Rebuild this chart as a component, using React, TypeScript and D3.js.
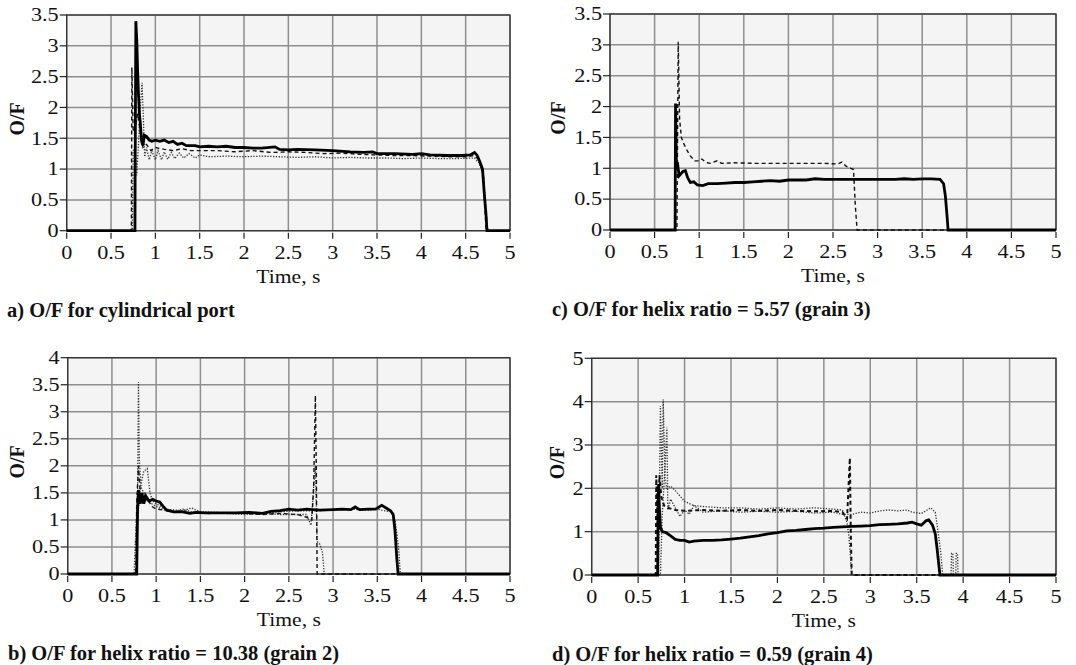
import * as d3 from "d3";

type Pt = [number, number];

// x ticks shared by all panels
const xTicks = [0, 0.5, 1, 1.5, 2, 2.5, 3, 3.5, 4, 4.5, 5];
const yTicksA = [0, 0.5, 1, 1.5, 2, 2.5, 3, 3.5];
const yTicksB = [0, 0.5, 1, 1.5, 2, 2.5, 3, 3.5, 4];
const yTicksD = [0, 1, 2, 3, 4, 5];

const captions = [
  "a) O/F for cylindrical port",
  "b) O/F for helix ratio = 10.38 (grain 2)",
  "c) O/F for helix ratio = 5.57 (grain 3)",
  "d) O/F for helix ratio = 0.59 (grain 4)",
];

// panel a
const aSolid: Pt[] = [
  [0, 0], [0.77, 0], [0.772, 1.0], [0.78, 3.4], [0.79, 3.1], [0.8, 2.6], [0.81, 2.2], [0.82, 1.9],
  [0.83, 1.75], [0.845, 1.45], [0.86, 1.38], [0.875, 1.55], [0.9, 1.53], [0.93, 1.47], [0.96, 1.45],
  [1.0, 1.47], [1.05, 1.45], [1.1, 1.47], [1.15, 1.43], [1.2, 1.45], [1.25, 1.4], [1.3, 1.42],
  [1.35, 1.38], [1.45, 1.38], [1.5, 1.36], [1.6, 1.37], [1.7, 1.36], [1.8, 1.37], [1.9, 1.35],
  [2.0, 1.35], [2.1, 1.34], [2.2, 1.34], [2.35, 1.36], [2.4, 1.32], [2.5, 1.31], [2.6, 1.32],
  [2.8, 1.31], [3.0, 1.3], [3.2, 1.28], [3.35, 1.27], [3.45, 1.28], [3.5, 1.25], [3.7, 1.25],
  [3.9, 1.24], [4.0, 1.25], [4.1, 1.23], [4.3, 1.22], [4.45, 1.22], [4.55, 1.23], [4.6, 1.27],
  [4.63, 1.22], [4.66, 1.12], [4.69, 1.0], [4.71, 0.6], [4.73, 0.25], [4.74, 0], [5, 0],
];
const aDashed: Pt[] = [
  [0, 0], [0.73, 0], [0.735, 2.65], [0.75, 1.6], [0.77, 1.65], [0.8, 1.9], [0.83, 1.6], [0.86, 1.35],
  [0.9, 1.4], [0.95, 1.3], [1.0, 1.35], [1.1, 1.32], [1.2, 1.3], [1.3, 1.33], [1.4, 1.3], [1.5, 1.3],
  [1.7, 1.3], [1.9, 1.28], [2.1, 1.3], [2.3, 1.27], [2.5, 1.28], [2.7, 1.27], [2.9, 1.25], [3.1, 1.26],
  [3.3, 1.24], [3.5, 1.23], [3.7, 1.22], [3.9, 1.22], [4.1, 1.21], [4.3, 1.2], [4.5, 1.2], [4.6, 1.22],
  [4.65, 1.15], [4.7, 0.9], [4.73, 0], [5, 0],
];
const aDotted: Pt[] = [
  [0, 0], [0.74, 0], [0.75, 1.3], [0.77, 1.35], [0.79, 0.9], [0.81, 1.4], [0.83, 2.0], [0.85, 2.4],
  [0.87, 1.6], [0.88, 1.2], [0.9, 1.35], [0.93, 1.15], [0.96, 1.3], [1.0, 1.15], [1.03, 1.3],
  [1.07, 1.15], [1.1, 1.28], [1.14, 1.16], [1.18, 1.27], [1.22, 1.17], [1.27, 1.26], [1.32, 1.18],
  [1.38, 1.25], [1.45, 1.18], [1.5, 1.23], [1.6, 1.2], [1.8, 1.21], [2.0, 1.2], [2.2, 1.21],
  [2.4, 1.2], [2.6, 1.19], [2.8, 1.2], [3.0, 1.18], [3.2, 1.19], [3.4, 1.18], [3.6, 1.18],
  [3.8, 1.17], [4.0, 1.18], [4.2, 1.17], [4.4, 1.17], [4.6, 1.18], [4.65, 1.1], [4.7, 0.9],
  [4.73, 0.3], [4.75, 0], [5, 0],
];

// panel b
const bSolid: Pt[] = [
  [0, 0], [0.78, 0], [0.79, 1.2], [0.8, 1.55], [0.82, 1.3], [0.84, 1.5], [0.86, 1.3], [0.88, 1.45],
  [0.92, 1.35], [0.96, 1.38], [1.0, 1.35], [1.04, 1.33], [1.08, 1.25], [1.12, 1.18], [1.2, 1.15],
  [1.3, 1.15], [1.38, 1.12], [1.45, 1.14], [1.55, 1.13], [1.7, 1.13], [1.9, 1.13], [2.05, 1.14],
  [2.2, 1.12], [2.3, 1.16], [2.4, 1.17], [2.5, 1.2], [2.6, 1.18], [2.7, 1.2], [2.85, 1.18],
  [3.0, 1.19], [3.1, 1.2], [3.2, 1.19], [3.25, 1.24], [3.3, 1.19], [3.4, 1.2], [3.48, 1.2],
  [3.55, 1.27], [3.6, 1.22], [3.65, 1.17], [3.68, 1.1], [3.7, 0.8], [3.72, 0.3], [3.735, 0], [5, 0],
];
const bDashed: Pt[] = [
  [0, 0], [0.77, 0], [0.78, 1.3], [0.8, 2.0], [0.82, 1.5], [0.85, 1.3], [0.9, 1.4], [0.95, 1.25],
  [1.0, 1.2], [1.1, 1.18], [1.2, 1.15], [1.4, 1.13], [1.6, 1.12], [1.8, 1.13], [2.0, 1.12],
  [2.2, 1.1], [2.4, 1.12], [2.6, 1.1], [2.7, 1.05], [2.76, 1.0], [2.78, 1.6], [2.8, 3.3],
  [2.81, 2.0], [2.82, 0], [3.73, 0],
];
const bDotted1: Pt[] = [
  [0, 0], [0.75, 0], [0.76, 0.4], [0.79, 1.5], [0.8, 3.55], [0.81, 2.1], [0.83, 1.6], [0.86, 1.5],
  [0.9, 1.35], [0.95, 1.3], [1.0, 1.25], [1.1, 1.18], [1.2, 1.14], [1.3, 1.2], [1.4, 1.15],
  [1.6, 1.12], [1.8, 1.12], [2.0, 1.1], [2.2, 1.12], [2.4, 1.1], [2.6, 1.1], [2.7, 1.1],
  [2.75, 0.9], [2.78, 1.6], [2.8, 2.0], [2.82, 0.6], [2.85, 0.55], [2.88, 0.4], [2.9, 0], [5, 0],
];
const bDotted2: Pt[] = [
  [0, 0], [0.78, 0], [0.79, 1.0], [0.82, 1.6], [0.86, 1.9], [0.9, 1.95], [0.93, 1.5], [0.96, 1.35],
  [1.0, 1.3], [1.1, 1.2], [1.3, 1.17], [1.4, 1.22], [1.5, 1.15], [1.8, 1.13], [2.0, 1.14],
  [2.2, 1.13], [2.4, 1.15], [2.6, 1.17], [2.8, 1.17], [3.0, 1.18], [3.2, 1.2], [3.4, 1.18],
  [3.5, 1.2], [3.55, 1.18], [3.65, 1.15], [3.7, 1.0], [3.74, 0.5], [3.76, 0], [5, 0],
];

// panel c
const cSolid: Pt[] = [
  [0, 0], [0.73, 0], [0.735, 2.05], [0.745, 1.0], [0.755, 1.1], [0.775, 0.88], [0.8, 0.92],
  [0.82, 0.95], [0.845, 0.96], [0.87, 0.85], [0.9, 0.77], [0.94, 0.78], [0.98, 0.73], [1.04, 0.72],
  [1.1, 0.75], [1.2, 0.75], [1.3, 0.76], [1.4, 0.77], [1.5, 0.77], [1.6, 0.78], [1.7, 0.79],
  [1.8, 0.8], [1.9, 0.79], [2.0, 0.81], [2.2, 0.81], [2.3, 0.83], [2.4, 0.82], [2.6, 0.82],
  [2.8, 0.82], [3.0, 0.82], [3.2, 0.82], [3.3, 0.83], [3.4, 0.82], [3.5, 0.83], [3.6, 0.83],
  [3.7, 0.82], [3.74, 0.75], [3.76, 0.55], [3.78, 0.2], [3.79, 0], [5, 0],
];
const cDashed: Pt[] = [
  [0, 0], [0.75, 0], [0.765, 3.05], [0.78, 1.8], [0.8, 1.5], [0.82, 1.42], [0.86, 1.3], [0.9, 1.2],
  [0.95, 1.12], [1.0, 1.12], [1.03, 1.15], [1.07, 1.1], [1.12, 1.08], [1.2, 1.12], [1.25, 1.08],
  [1.4, 1.09], [1.6, 1.08], [1.8, 1.08], [2.0, 1.08], [2.2, 1.08], [2.4, 1.08], [2.55, 1.07],
  [2.6, 1.1], [2.65, 1.03], [2.7, 1.0], [2.73, 0.98], [2.75, 0.4], [2.77, 0], [3.8, 0],
];

// panel d
const dSolid: Pt[] = [
  [0, 0], [0.71, 0], [0.715, 1.5], [0.72, 2.1], [0.73, 1.5], [0.74, 1.1], [0.76, 1.0], [0.8, 0.98],
  [0.85, 0.9], [0.9, 0.82], [0.95, 0.8], [1.0, 0.8], [1.05, 0.76], [1.1, 0.78], [1.2, 0.8],
  [1.3, 0.8], [1.4, 0.81], [1.5, 0.83], [1.6, 0.85], [1.7, 0.88], [1.8, 0.91], [1.9, 0.95],
  [2.0, 0.98], [2.1, 1.02], [2.2, 1.03], [2.3, 1.05], [2.4, 1.07], [2.5, 1.08], [2.6, 1.1],
  [2.7, 1.11], [2.8, 1.12], [2.9, 1.13], [3.0, 1.14], [3.1, 1.16], [3.2, 1.17], [3.3, 1.18],
  [3.4, 1.2], [3.45, 1.22], [3.5, 1.18], [3.55, 1.15], [3.6, 1.25], [3.63, 1.27], [3.67, 1.15],
  [3.7, 0.95], [3.72, 0.6], [3.74, 0.2], [3.75, 0], [5, 0],
];
const dDashed: Pt[] = [
  [0, 0], [0.69, 0], [0.695, 2.3], [0.71, 1.2], [0.73, 2.3], [0.75, 1.8], [0.78, 1.6], [0.82, 1.55],
  [0.9, 1.5], [1.0, 1.48], [1.2, 1.5], [1.4, 1.48], [1.6, 1.5], [1.8, 1.48], [2.0, 1.5],
  [2.2, 1.48], [2.4, 1.47], [2.6, 1.48], [2.7, 1.45], [2.75, 1.3], [2.78, 2.7], [2.79, 1.0],
  [2.8, 0], [3.75, 0],
];
const dDotted1: Pt[] = [
  [0, 0], [0.72, 0], [0.74, 3.9], [0.76, 2.0], [0.77, 4.05], [0.79, 2.2], [0.81, 2.0], [0.85, 2.05],
  [0.9, 1.95], [1.0, 1.7], [1.1, 1.6], [1.2, 1.58], [1.4, 1.55], [1.6, 1.55], [1.8, 1.52],
  [2.0, 1.55], [2.2, 1.52], [2.4, 1.55], [2.6, 1.52], [2.7, 1.5], [2.75, 1.2], [2.77, 0.9],
  [2.8, 0], [5, 0],
];
const dDotted2: Pt[] = [
  [0, 0], [0.74, 0], [0.76, 1.4], [0.79, 2.5], [0.81, 3.4], [0.82, 1.5], [0.85, 1.75], [0.9, 1.55],
  [0.95, 1.35], [1.0, 1.5], [1.05, 1.4], [1.1, 1.6], [1.2, 1.45], [1.4, 1.48], [1.6, 1.45],
  [1.8, 1.47], [2.0, 1.45], [2.2, 1.47], [2.4, 1.43], [2.6, 1.45], [2.7, 1.4], [2.8, 1.4],
  [2.9, 1.45], [3.0, 1.43], [3.1, 1.48], [3.2, 1.5], [3.3, 1.48], [3.4, 1.5], [3.45, 1.45],
  [3.55, 1.42], [3.6, 1.48], [3.65, 1.55], [3.7, 1.45], [3.73, 1.0], [3.76, 0.5], [3.78, 0],
  [3.87, 0], [3.875, 0.5], [3.89, 0.5], [3.895, 0], [3.92, 0], [3.925, 0.5], [3.94, 0.5],
  [3.945, 0], [5, 0],
];

const FONT = "'Liberation Serif', 'Times New Roman', serif";
// axis text in the source is horizontally stretched
const SX = 1.2;

type Series = { data: Pt[]; kind: "solid" | "dashed" | "dotted"; width?: number };

const styleOf = (s: Series) => {
  if (s.kind === "solid") return { stroke: "#000", width: s.width ?? 2.8, dash: undefined };
  if (s.kind === "dashed") return { stroke: "#111", width: s.width ?? 1.4, dash: "4,3" };
  return { stroke: "#333", width: s.width ?? 1.3, dash: "1.3,1.5" };
};

function SText(props: { x: number; y: number; anchor: string; size: number; children: string; bold?: boolean }) {
  return (
    <text transform={`translate(${props.x},${props.y}) scale(${SX},1)`} textAnchor={props.anchor}
      fontSize={props.size} fontWeight={props.bold ? "bold" : "normal"} fill="#111">
      {props.children}
    </text>
  );
}

function Panel(props: {
  left: number; right: number; top: number; bottom: number;
  yMax: number; yTicks: number[]; series: Series[];
  caption: string; capX: number; yLabX: number;
}) {
  const { left, right, top, bottom, yMax, yTicks, series, caption, capX, yLabX } = props;
  const x = d3.scaleLinear().domain([0, 5]).range([left, right]);
  const y = d3.scaleLinear().domain([0, yMax]).range([bottom, top]);
  const line = d3.line<Pt>().x((d) => x(d[0])).y((d) => y(d[1]));
  const midY = (top + bottom) / 2;
  return (
    <g fontFamily={FONT}>
      <rect x={left} y={top} width={right - left} height={bottom - top} fill="#f4f4f4" />
      {xTicks.map((t) => (
        <line key={"gx" + t} x1={x(t)} x2={x(t)} y1={top} y2={bottom} stroke="#8e8e8e" strokeWidth={1.5} />
      ))}
      {yTicks.map((t) => (
        <line key={"gy" + t} x1={left} x2={right} y1={y(t)} y2={y(t)} stroke="#8e8e8e" strokeWidth={1.5} />
      ))}
      <rect x={left} y={top} width={right - left} height={bottom - top} fill="none" stroke="#333" strokeWidth={1.3} />
      {series.map((s, i) => {
        const st = styleOf(s);
        return (
          <path key={i} d={line(s.data) ?? ""} fill="none" stroke={st.stroke}
            strokeWidth={st.width} strokeDasharray={st.dash} strokeLinejoin="miter" />
        );
      })}
      {yTicks.map((t) => (
        <g key={"ty" + t}>
          <line x1={left - 7} x2={left} y1={y(t)} y2={y(t)} stroke="#222" strokeWidth={1.2} />
          <SText x={left - 8} y={y(t) + 6.3} anchor="end" size={18.5}>{String(t)}</SText>
        </g>
      ))}
      {xTicks.map((t) => (
        <g key={"tx" + t}>
          <line x1={x(t)} x2={x(t)} y1={bottom + 2} y2={bottom + 8} stroke="#222" strokeWidth={1.2} />
          <SText x={x(t)} y={bottom + 28} anchor="middle" size={18.5}>{String(t)}</SText>
        </g>
      ))}
      <SText x={(left + right) / 2} y={bottom + 52} anchor="middle" size={18}>Time, s</SText>
      <text transform={`translate(${yLabX},${midY - 4}) rotate(-90)`} dy="0.35em" textAnchor="middle"
        fontSize={20} fontWeight="bold" fill="#111">O/F</text>
      <text x={capX} y={bottom + 86} fontSize={20.5} fontWeight="bold" fill="#111">{caption}</text>
    </g>
  );
}

export default function App() {
  return (
    <svg width={1076} height={665} style={{ position: "absolute", left: 0, top: 0, background: "#fff" }}>
      <Panel left={66.7} right={510} top={15} bottom={230.7} yMax={3.5} yTicks={yTicksA}
        caption={captions[0]} capX={7} yLabX={17}
        series={[{ data: aDotted, kind: "dotted" }, { data: aDashed, kind: "dashed" }, { data: aSolid, kind: "solid" }]} />
      <Panel left={67.7} right={510} top={357.7} bottom={574} yMax={4} yTicks={yTicksB}
        caption={captions[1]} capX={8} yLabX={17}
        series={[{ data: bDotted1, kind: "dotted" }, { data: bDotted2, kind: "dotted" },
          { data: bDashed, kind: "dashed" }, { data: bSolid, kind: "solid" }]} />
      <Panel left={610} right={1056} top={14} bottom={230} yMax={3.5} yTicks={yTicksA}
        caption={captions[2]} capX={552} yLabX={558}
        series={[{ data: cDashed, kind: "dashed" }, { data: cSolid, kind: "solid" }]} />
      <Panel left={591.7} right={1056} top={358.3} bottom={575} yMax={5} yTicks={yTicksD}
        caption={captions[3]} capX={552} yLabX={557}
        series={[{ data: dDotted1, kind: "dotted" }, { data: dDotted2, kind: "dotted" },
          { data: dDashed, kind: "dashed", width: 2 }, { data: dSolid, kind: "solid" }]} />
    </svg>
  );
}
